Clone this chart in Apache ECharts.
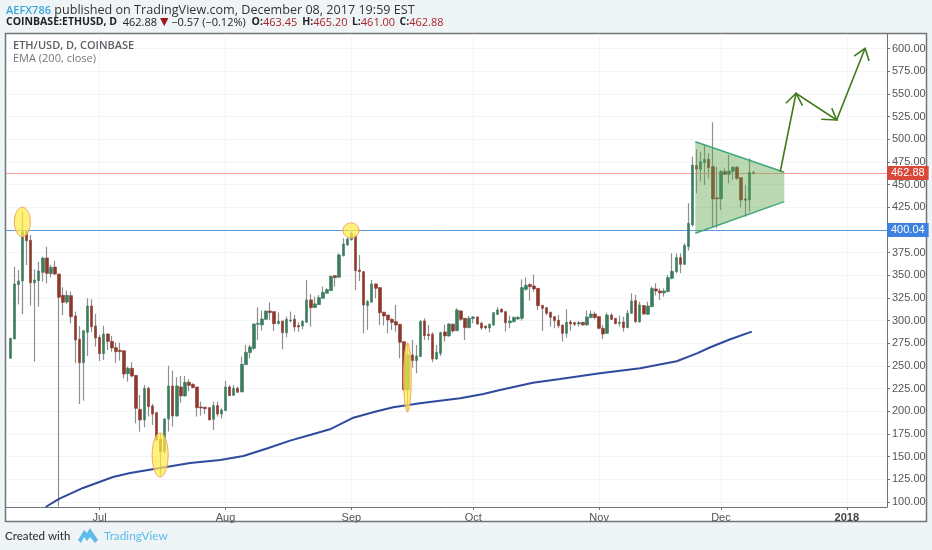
<!DOCTYPE html>
<html><head><meta charset="utf-8">
<style>html,body{margin:0;padding:0;background:#eff4f7}#c{width:932px;height:550px}</style>
<script src="https://cdn.jsdelivr.net/npm/echarts@6/dist/echarts.min.js"></script>
</head><body><div id="c"></div>
<script>
// the x axis counts days since the first candle, 2017-06-09
const opens = [258.5,279.8,339.7,343.8,398.2,388.6,341.9,344.1,353.3,369.1,
351.9,359.2,351.5,328.0,320.6,327.6,305.2,279.4,253.7,287.2,
316.2,294.1,281.6,263.6,285.3,277.2,270.2,267.3,266.9,241.6,
247.5,239.7,202.2,190.5,225.4,205.9,198.6,169.2,155.6,191.6,
228.0,194.9,226.9,217.0,232.0,229.8,226.9,204.8,204.5,204.1,
191.2,206.3,197.1,200.8,226.9,217.7,225.4,221.4,251.5,264.8,
269.5,296.0,295.3,301.5,310.7,310.0,296.7,299.7,286.8,299.7,
301.5,294.6,294.2,298.2,322.9,314.4,317.7,324.7,330.2,333.2,
349.7,347.9,371.8,383.5,389.0,393.8,355.9,354.1,316.6,320.3,
340.5,336.5,309.3,306.3,301.5,299.0,296.0,276.9,223.6,262.2,
256.0,260.4,299.7,285.0,285.0,257.8,264.0,287.6,283.2,296.0,
289.0,310.7,302.6,292.3,302.3,304.1,297.1,294.2,292.0,295.3,
307.0,312.6,310.0,297.8,299.0,301.9,302.6,334.6,339.8,338.3,
335.7,317.0,314.4,309.2,304.5,300.4,295.3,286.1,298.6,297.8,
296.4,298.2,295.3,303.4,307.4,304.5,291.6,286.1,306.3,302.6,
297.1,298.6,292.3,308.1,322.1,298.6,316.6,307.0,315.5,335.0,
332.8,330.6,332.1,346.8,354.1,369.6,362.2,381.7,405.6,471.0,
467.0,474.3,478.0,469.9,435.4,434.3,464.4,461.5,464.8,469.2,
457.8,434.3,433.2,463.45];
const closes = [280.6,340.5,343.8,398.2,388.3,341.9,344.9,354.8,369.1,352.2,
358.8,351.5,325.8,320.2,328.0,304.4,278.7,253.7,289.0,316.2,
293.4,280.9,263.6,285.3,277.2,269.9,265.8,265.8,241.2,247.5,
239.0,203.3,190.5,225.4,205.2,197.1,168.5,155.6,191.6,228.0,
194.9,228.0,217.0,232.0,228.7,226.2,204.1,203.7,203.0,190.5,
206.3,197.1,201.5,226.9,217.3,225.4,221.0,251.9,265.1,271.0,
296.4,297.1,301.9,310.7,308.9,296.7,299.3,286.8,301.5,300.8,
293.1,293.1,299.0,322.9,314.4,318.5,325.4,331.3,334.3,349.0,
347.5,372.5,384.6,390.1,396.4,355.2,354.1,317.3,321.0,340.5,
335.7,308.9,305.2,300.8,298.2,295.3,276.2,223.6,262.2,256.0,
261.1,299.0,283.5,283.5,257.8,265.1,286.8,283.2,296.4,288.7,
311.8,301.5,292.3,302.6,304.1,296.4,292.0,292.0,296.0,308.9,
311.8,309.6,297.8,299.7,303.7,303.7,336.5,339.0,337.6,335.0,
316.6,313.7,308.1,303.7,300.1,294.5,286.1,298.2,296.4,296.0,
297.8,295.3,304.1,307.4,303.4,291.6,285.3,306.3,301.5,296.7,
298.2,292.3,308.1,321.7,299.0,317.3,307.4,316.2,335.7,332.8,
330.6,332.8,347.5,354.5,369.6,362.2,382.8,407.4,471.7,467.3,
475.4,478.0,468.8,434.3,434.3,464.4,461.5,465.1,469.2,457.0,
433.2,432.8,463.6,462.88];
const lows = [258.5,279.8,318.0,307.0,361.4,316.6,254.8,315.5,343.0,341.2,
347.8,350.4,95,306.3,318.4,297.1,253.0,208.1,211.8,261.1,
287.2,271.4,255.5,256.6,267.7,265.8,253.7,255.9,236.4,232.8,
237.5,186.8,177.6,182.4,194.2,185.0,167.7,128.8,153.8,177.6,
183.2,194.2,209.6,216.2,222.1,225.4,194.2,195.3,197.1,190.5,
179.5,194.2,192.3,200.8,217.0,217.0,220.7,221.0,251.2,258.5,
267.7,278.7,289.0,300.8,300.8,288.7,296.0,268.4,281.7,298.2,
287.9,287.9,290.5,298.2,293.5,314.4,317.3,324.7,330.2,332.8,
337.6,347.5,370.7,382.8,388.7,333.9,343.8,286.1,289.8,320.3,
324.7,295.3,294.6,286.1,289.8,287.9,258.5,223.6,199.7,248.2,
242.0,260.4,278.7,278.7,254.1,256.7,261.0,276.9,282.4,286.8,
288.7,299.7,278.7,291.6,297.1,295.3,289.8,290.5,287.2,294.2,
306.3,308.9,288.0,291.6,297.8,300.8,300.1,333.1,322.1,332.0,
311.8,288.7,306.3,293.4,291.6,291.6,276.9,281.3,289.0,294.2,
293.4,294.5,294.5,302.6,301.5,290.5,279.8,285.3,300.8,296.0,
293.4,288.0,291.6,307.4,297.8,297.8,306.3,306.3,314.8,328.0,
322.9,326.5,331.3,345.6,352.3,352.3,361.5,377.3,403.7,440.5,
453.4,449.7,457.0,403.7,401.9,422.1,460.7,451.5,455.2,455.2,
425.1,414.8,420.3,461.00];
const highs = [280.6,359.6,355.9,420.2,398.2,394.5,356.6,365.1,370.6,381.6,
361.4,366.2,351.5,336.8,333.1,332.0,310.0,294.1,289.0,324.7,
323.5,307.4,284.2,294.5,286.0,283.1,275.8,275.8,266.9,249.3,
254.1,239.7,218.0,229.1,227.2,208.1,198.6,175.1,192.3,250.4,
244.9,237.6,239.0,239.0,235.3,230.9,226.9,210.7,205.2,204.1,
210.7,210.7,203.4,233.5,229.1,229.1,227.3,260.3,273.2,273.2,
297.1,314.8,311.1,311.1,320.3,310.0,309.2,299.7,304.5,310.0,
306.3,298.2,300.8,344.9,329.5,326.5,328.4,337.6,335.7,349.7,
350.4,374.3,390.9,391.6,398.2,394.5,372.5,354.1,322.9,344.9,
341.2,336.5,310.0,306.3,302.6,317.3,296.0,276.9,275.1,278.7,
273.2,300.8,302.6,295.3,287.2,273.2,288.0,295.3,297.1,297.1,
313.7,311.8,302.6,305.2,305.2,304.5,299.0,294.2,297.1,308.9,
314.8,313.7,310.0,305.6,304.5,305.2,345.6,347.5,341.2,350.8,
335.7,317.3,314.4,310.0,304.5,306.3,295.3,312.6,300.8,299.0,
299.7,298.2,311.1,311.1,310.0,304.5,295.3,308.9,308.1,302.6,
305.6,304.5,311.8,330.2,328.4,321.0,317.3,321.0,337.6,341.2,
335.7,335.7,350.4,374.3,374.3,374.3,385.4,429.5,480.9,489.0,
486.4,493.8,484.6,518.8,469.9,466.2,468.1,482.8,470.6,470.6,
457.8,449.7,479.1,465.20];

// EMA (200, close), read as [day, price]
const emaDays = [8.7,12.0,17.9,25.3,29.5,36.9,44.3,51.7,57.4,63.2,68.9,73.8,78.7,84.5,89.8,94.3,100.9,105.8,110.8,116.5,120.6,128.7,135.4,145.2,155.1,164.1,169.1,172.4,177.3,182.6];
const emaValues = [94.5,103.4,115.5,127.6,132.0,137.5,143.1,146.4,150.8,159.1,167.7,174.0,180.2,193.0,199.6,204.5,208.9,211.8,214.4,219.2,223.6,231.6,235.7,242.0,247.5,255.2,264.0,270.7,279.5,287.9];

// drawings, as [day, price]
const pennant = [[168.7,497.4],[190.6,463.7],[190.6,431.3],[168.7,396.4]];
const arrowPath = [[189.6,464.3],[193.5,550.8],[203.5,521.4],[210.5,600.4]];
const arrowHeads = [
  [[191.0,539.8],[193.5,550.8],[195.1,537.1]],
  [[202.3,534.3],[203.5,521.4],[199.7,522.1]],
  [[207.8,591.9],[210.5,600.4],[211.5,586.4]]
];
// [centre day, centre price, half-width in days, half-height in price]
const ellipses = [[2.96,408.9,1.97,16.2],[36.9,151.9,1.97,24.3],[83.9,399.5,1.97,8.3],[97.8,237.4,0.94,38]];

const priceLines = [{value:400.04,line:'#5b9bd6',tag:'#3d82e0'},{value:462.88,line:'#fb9f96',tag:'#d8493b'}];
const yTicks = [100,125,150,175,200,225,250,275,300,325,350,375,400,425,450,475,500,525,550,575,600];
const monthDays = [22,53,84,114,145,175,206];
const monthLabels = ['Jul','Aug','Sep','Oct','Nov','Dec','2018'];
const headerLine1 = 'published on TradingView.com, December 08, 2017 19:59 EST';

const wickData = opens.map((o, i) => [i, o, closes[i], lows[i], highs[i]]);
const bodyData = opens.map((o, i) => [i, o, closes[i], Math.min(o, closes[i]), Math.max(o, closes[i])]);

const GREEN = '#3b7d5e', RED = '#8e392e', WICK = '#8f8f8f', ARROW = '#3f7a1c';
const yFont = 'Liberation Sans';

const shapeSeries = (renderItem, z) => ({type:'custom', silent:true, z, clip:true, encode:{x:0,y:1},
  data:[[0,300]], renderItem});

const boldLabel = pad => ({fontWeight:'bold',fontFamily:'Open Sans',fontSize:10.5,fill:'#222',padding:[0,0,0,pad]});

const chart = echarts.init(document.getElementById('c'));
chart.setOption({
  animation:false,
  backgroundColor:'#eff4f7',
  grid:{left:6,top:34,width:881,height:473,show:false},
  xAxis:{type:'value',min:-1.06,max:215.9,
    axisLine:{onZero:false,lineStyle:{color:'#6f7478',width:1}},
    axisTick:{show:true,length:3,lineStyle:{color:'#6f7478'},customValues:monthDays},
    axisLabel:{customValues:monthDays,hideOverlap:false,
      fontFamily:yFont,fontSize:11,color:'#555',margin:5,
      formatter:v=>{const n=monthLabels[monthDays.indexOf(v)]; return n==='2018'?'{b|2018}':n;},
      rich:{b:{fontFamily:yFont,fontSize:11,fontWeight:'bold',color:'#444'}}},
    splitLine:{show:true,lineStyle:{color:'#f3f4f5',width:1}}},
  yAxis:{type:'value',position:'right',min:94.5,max:616.2,
    axisLine:{show:true,onZero:false,lineStyle:{color:'#6f7478',width:1}},
    axisTick:{show:true,length:3,lineStyle:{color:'#6f7478'},customValues:yTicks},
    axisLabel:{customValues:yTicks,fontFamily:yFont,fontSize:11,color:'#555',margin:5,
      formatter:v=>v.toFixed(2)},
    splitLine:{show:true,lineStyle:{color:'#f3f4f5',width:1}}},
  graphic:[
    {type:'rect',z:-10,silent:true,shape:{x:5.5,y:33.5,width:921,height:488},style:{fill:'#fff',stroke:'#70757a',lineWidth:1.5}},
    {type:'text',left:6,top:4,silent:true,style:{fontFamily:'Open Sans',fontSize:12.6,fill:'#333',
      rich:{a:{fill:'#37a6d9',fontFamily:'Open Sans',fontSize:11,fontWeight:600},t:{fill:'#333',fontFamily:'Open Sans',fontSize:12.6}},
      text:'{a|AEFX786} {t|'+headerLine1+'}'}},
    {type:'text',left:6,top:17,silent:true,style:{fontFamily:'Open Sans',fontSize:11,fill:'#222',
      rich:{b:boldLabel(0),o:boldLabel(3),h:boldLabel(2),l:boldLabel(1.5),
            n:{fontFamily:'Open Sans',fontSize:11,fill:'#222'},
            r:{fontFamily:'Open Sans',fontSize:11,fill:'#a8242a'},
            d:{fontFamily:'DejaVu Sans',fontSize:11,fill:'#9e1a1a'}},
      text:'{b|COINBASE:ETHUSD, D}  {n|462.88} {d|▼} {n|−0.57 (−0.12%)} {o|O:}{r|463.45} {h|H:}{r|465.20} {l|L:}{r|461.00} {l|C:}{r|462.88}'}},
    {type:'text',left:13,top:40,silent:true,z:20,style:{text:'ETH/USD, D, COINBASE',fontFamily:'Open Sans',fontSize:11,fontWeight:600,fill:'#5b5f63'}},
    {type:'text',left:13,top:53,silent:true,z:20,style:{text:'EMA (200, close)',fontFamily:'Open Sans',fontSize:11,fill:'#74787c'}},
    {type:'text',left:5,top:530,silent:true,style:{text:'Created with',fontFamily:'Lato',fontSize:11.5,fontWeight:500,fill:'#333'}},
    {type:'polygon',silent:true,shape:{points:[[78,540],[84,530],[87,533],[90,528],[98,540],[95,543],[90,537],[87,541],[84,537],[81,543]]},style:{fill:'#5cbde8'}},
    {type:'text',left:104,top:530,silent:true,style:{text:'TradingView',fontFamily:'Lato',fontSize:11.8,fill:'#5cbde8'}}
  ],
  series:[
    {type:'candlestick',name:'wicks',barWidth:1,z:3,data:wickData,encode:{x:0,y:[1,2,3,4]},
      itemStyle:{color:WICK,color0:WICK,borderColor:WICK,borderColor0:WICK,borderColorDoji:WICK,borderWidth:1.2},
      markLine:{silent:true,symbol:'none',z:4,animation:false,
        data:priceLines.map(l=>({yAxis:l.value,lineStyle:{color:l.line,width:1,type:'solid',opacity:1},
          label:{show:true,position:'end',distance:0,formatter:l.value.toFixed(2),color:'#fff',
            backgroundColor:l.tag,fontFamily:yFont,fontSize:11,padding:[2,4,1,4]}}))}},
    {type:'candlestick',name:'ETH/USD',barWidth:3,z:4,data:bodyData,encode:{x:0,y:[1,2,3,4]},
      itemStyle:{color:GREEN,color0:RED,borderColor:GREEN,borderColor0:RED,borderColorDoji:RED,borderWidth:0.6}},
    {type:'line',name:'EMA (200, close)',z:5,symbol:'none',smooth:false,clip:true,
      data:emaDays.map((d,i)=>[d,emaValues[i]]),lineStyle:{color:'#2f4a9d',width:2}},
    shapeSeries((p,api)=>({type:'group',children:ellipses.map(e=>{
      const c=api.coord([e[0],e[1]]), a=api.coord([e[0]+e[2],e[1]+e[3]]);
      return {type:'ellipse',shape:{cx:c[0],cy:c[1],rx:a[0]-c[0],ry:c[1]-a[1]},
        style:{fill:'rgba(255,236,70,0.72)',stroke:'#f4a56c',lineWidth:1}};
    })}),6),
    shapeSeries((p,api)=>{
      const q=pennant.map(v=>api.coord(v));
      return {type:'group',children:[
        {type:'polygon',shape:{points:q},style:{fill:'rgba(90,165,75,0.42)',stroke:null}},
        {type:'line',shape:{x1:q[0][0],y1:q[0][1],x2:q[1][0],y2:q[1][1]},style:{stroke:'#41a67c',lineWidth:1.5}},
        {type:'line',shape:{x1:q[3][0],y1:q[3][1],x2:q[2][0],y2:q[2][1]},style:{stroke:'#41a67c',lineWidth:1.5}}
      ]};
    },7),
    shapeSeries((p,api)=>({type:'group',children:[arrowPath].concat(arrowHeads).map(l=>({
      type:'polyline',shape:{points:l.map(v=>api.coord(v))},style:{stroke:ARROW,lineWidth:1.6,fill:null}}))}),8)
  ]
});
</script></body></html>
